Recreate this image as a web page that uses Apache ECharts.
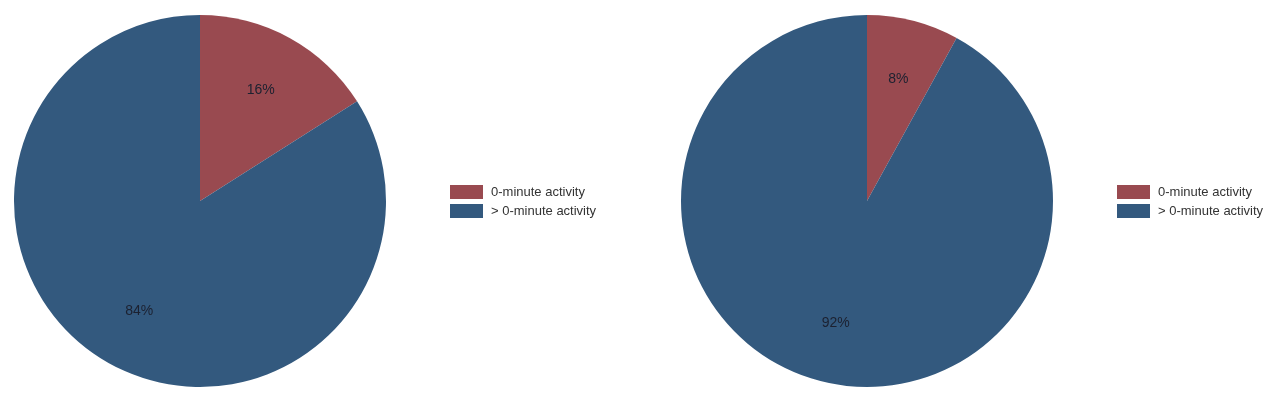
<!DOCTYPE html>
<html lang="en">
<head>
    <meta charset="UTF-8">
    <title>Activity share pies</title>
</head>
<body style="margin:0;background:#fff;">
<div style="width: 1280px;height: 404px;" id="pieChart"></div>
</body>
<script src="https://cdn.jsdelivr.net/npm/echarts@6/dist/echarts.min.js"></script>
<script type="text/javascript">
  // categories and shares (percent) for the two groups
  const categories = ['0-minute activity', '> 0-minute activity'];
  const leftValues = [16, 84];
  const rightValues = [8, 92];
  const colors = ['#994a50', '#33597e'];

  function makeData(values) {
    return categories.map((name, i) => ({
      name: name,
      value: values[i],
      itemStyle: {color: colors[i]},
    }));
  }

  // main filled pie
  function pieSeries(values, center) {
    return {
      type: 'pie',
      center: center,
      radius: 186,
      startAngle: 90,
      clockwise: true,
      label: {show: false},
      labelLine: {show: false},
      emphasis: {disabled: true},
      data: makeData(values),
    };
  }

  // invisible twin pie, only used to place the percent labels further out
  function labelSeries(values, center) {
    return {
      type: 'pie',
      center: center,
      radius: 246,
      startAngle: 90,
      clockwise: true,
      silent: true,
      itemStyle: {color: 'transparent'},
      label: {
        show: true,
        position: 'inside',
        formatter: '{c}%',
        color: '#1c2130',
        fontSize: 14,
        fontFamily: 'Liberation Sans, Arial, sans-serif',
      },
      labelLine: {show: false},
      emphasis: {disabled: true},
      data: categories.map((name, i) => ({name: name, value: values[i]})),
    };
  }

  function legendAt(left) {
    return {
      left: left,
      top: 185,
      padding: 0,
      orient: 'vertical',
      icon: 'rect',
      itemWidth: 33,
      itemHeight: 14,
      itemGap: 5,
      selectedMode: false,
      textStyle: {
        fontSize: 13,
        color: '#333',
        padding: [0, 0, 0, 3],
        fontFamily: 'Liberation Sans, Arial, sans-serif',
      },
      data: categories.map((name, i) => ({name: name, itemStyle: {color: colors[i]}})),
    };
  }

  const option = {
    animation: false,
    backgroundColor: '#fff',
    legend: [legendAt(450), legendAt(1117)],
    series: [
      pieSeries(leftValues, [200, 201]),
      pieSeries(rightValues, [867, 201]),
      labelSeries(leftValues, [200, 201]),
      labelSeries(rightValues, [867, 201]),
    ],
  };

  let instance = echarts.init(document.getElementById('pieChart'));
  instance.setOption(option);
</script>
</html>
